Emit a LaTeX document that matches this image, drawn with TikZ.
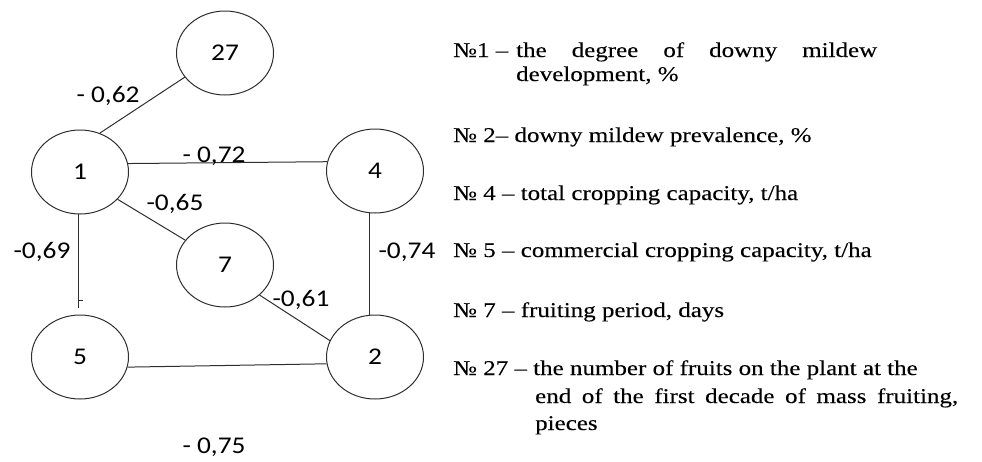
\documentclass[tikz,border=0pt]{standalone}
\usepackage{fontspec}
\setmainfont{Liberation Serif}[FakeStretch=1.19,FakeBold=0.15]
\newfontfamily\lblfont{Carlito}[FakeStretch=1.14]
\usetikzlibrary{shapes.geometric}
\definecolor{linec}{HTML}{2E2E2E}
\definecolor{txtc}{HTML}{000000}
\begin{document}
\begin{tikzpicture}[x=1pt,y=-1pt,
  vnode/.style={ellipse, draw=linec, line width=1pt, minimum width=97pt, minimum height=84pt, inner sep=0pt, text=txtc, font=\lblfont\fontsize{24}{27}\selectfont},
  edge/.style={draw=linec, line width=1pt},
  coef/.style={anchor=base, inner sep=0pt, text=txtc, font=\lblfont\fontsize{24}{27}\selectfont},
  legend/.style={anchor=base west, inner sep=0pt, text=txtc, font=\fontsize{21}{25}\selectfont}]
\useasboundingbox (0,0) rectangle (982,461);
\node[vnode] (n27) at (225,53) {27};
\node[vnode] (n1) at (80,172) {1};
\node[vnode] (n4) at (375,171) {4};
\node[vnode] (n7) at (225,265) {7};
\node[vnode] (n5) at (80,357) {5};
\node[vnode] (n2) at (375,357) {2};
\draw[edge] (n1.63) -- (n27.211);
\draw[edge] (n1.10) -- (n4.169);
\draw[edge] (n1.-36) -- (n7.148);
\draw[edge, shorten >=7pt] (n1.268) -- (n5.92);
\coordinate (tk) at (78,300);
\draw[edge] (tk) -- ++(5,0);
\draw[edge] (n4.262) -- (n2.98);
\draw[edge] (n7.-41) -- (n2.160);
\draw[edge] (n5.-12) -- (n2.188);
\node[coef] (c62) at (108,102) {- 0,62};
\node[coef] (c72) at (214,162) {- 0,72};
\node[coef] (c65) at (175,210) {-0,65};
\node[coef] (c69) at (42,258) {-0,69};
\node[coef] (c74) at (407,258) {-0,74};
\node[coef] (c61) at (301,306) {-0,61};
\node[coef] (c75) at (214,453) {- 0,75};
\node[legend] (l1a) at (453,57) {№1 –};
\node[legend] (l1b) at (516,57) {\makebox[361pt][s]{the degree of downy mildew}};
\node[legend] (l1c) at (516,81) {development, \%};
\node[legend] (l2) at (453,142) {№ 2– downy mildew prevalence, \%};
\node[legend] (l4) at (453,200) {№ 4 – total cropping capacity, t/ha};
\node[legend] (l5) at (453,257) {№ 5 – commercial cropping capacity, t/ha};
\node[legend] (l7) at (453,317) {№ 7 – fruiting period, days};
\node[legend] (l27a) at (453,375) {№ 27 – the number of fruits on the plant at the};
\node[legend] (l27b) at (535,403) {\makebox[423pt][s]{end of the first decade of mass fruiting,}};
\node[legend] (l27c) at (535,430) {pieces};
\end{tikzpicture}
\end{document}
